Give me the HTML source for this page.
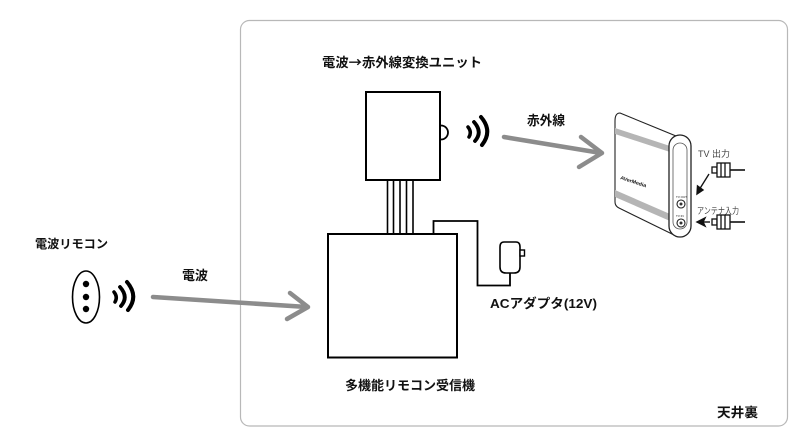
<!DOCTYPE html>
<html><head><meta charset="utf-8">
<style>
html,body{margin:0;padding:0;background:#fff;}
svg{display:block;}
text{font-family:"Liberation Sans","Noto Sans CJK JP",sans-serif;font-weight:bold;fill:#111;}
</style></head>
<body>
<svg width="812" height="440" viewBox="0 0 812 440" xmlns="http://www.w3.org/2000/svg">
<rect x="0" y="0" width="812" height="440" fill="#fff"/>
<!-- outer ceiling frame -->
<rect x="240.5" y="20.5" width="547" height="405.5" rx="9" ry="9" fill="none" stroke="#b8b8b8" stroke-width="1.2"/>

<!-- labels -->
<text x="322" y="67" font-size="13" textLength="160" lengthAdjust="spacingAndGlyphs" style="font-family:'Noto Sans CJK JP',sans-serif">電波→赤外線変換ユニット</text>
<text x="527" y="125" font-size="13" textLength="38" lengthAdjust="spacingAndGlyphs">赤外線</text>
<text x="35" y="248" font-size="12" textLength="73" lengthAdjust="spacingAndGlyphs">電波リモコン</text>
<text x="182" y="280" font-size="13" textLength="26" lengthAdjust="spacingAndGlyphs">電波</text>
<text x="490" y="308" font-size="13" textLength="107" lengthAdjust="spacingAndGlyphs">ACアダプタ(12V)</text>
<text x="345" y="390" font-size="13" textLength="130" lengthAdjust="spacingAndGlyphs">多機能リモコン受信機</text>
<text x="717" y="417" font-size="13" textLength="41" lengthAdjust="spacingAndGlyphs">天井裏</text>

<!-- remote -->
<ellipse cx="86" cy="297" rx="13.5" ry="26" fill="#fff" stroke="#000" stroke-width="1.6"/>
<circle cx="86" cy="284" r="3.2" fill="#000"/>
<circle cx="86" cy="297" r="3.2" fill="#000"/>
<circle cx="86" cy="309" r="3.2" fill="#000"/>

<!-- waves left -->
<g fill="none" stroke="#000" stroke-linecap="round">
<path d="M114,292 Q118,297 115,302" stroke-width="3.5"/>
<path d="M120,287 Q129,297 121,306" stroke-width="3.8"/>
<path d="M127,282 Q139,296 128,310" stroke-width="4"/>
</g>
<!-- waves right -->
<g fill="none" stroke="#000" stroke-linecap="round" transform="translate(354,-165)">
<path d="M114,292 Q118,297 115,302" stroke-width="3.5"/>
<path d="M120,287 Q129,297 121,306" stroke-width="3.8"/>
<path d="M127,282 Q139,296 128,310" stroke-width="4"/>
</g>

<!-- gray arrows -->
<g fill="none" stroke="#8c8c8c" stroke-width="4.5" stroke-linecap="round" stroke-linejoin="round">
<path d="M153,297 L307,307"/>
<path d="M290,293 L308,307 L287,319"/>
<path d="M504,137 L601,153"/>
<path d="M581,137 L602,153 L579,167"/>
</g>

<!-- converter box -->
<rect x="366" y="92" width="74" height="88" fill="#fff" stroke="#000" stroke-width="2"/>
<path d="M441,125.5 A7,7 0 0 1 441,139.5" fill="#fff" stroke="#000" stroke-width="1.8"/>
<!-- wires -->
<g stroke="#000" stroke-width="1.6">
<line x1="387.5" y1="180" x2="387.5" y2="234"/>
<line x1="393.5" y1="180" x2="393.5" y2="234"/>
<line x1="400" y1="180" x2="400" y2="234"/>
<line x1="406.5" y1="180" x2="406.5" y2="234"/>
<line x1="413" y1="180" x2="413" y2="234"/>
</g>
<!-- receiver box -->
<rect x="328" y="234" width="129" height="123.5" fill="#fff" stroke="#000" stroke-width="2"/>
<!-- cable -->
<path d="M433.5,234 L433.5,221 L477.5,221 L477.5,285.5 L510,285.5 L510,272" fill="none" stroke="#000" stroke-width="1.8"/>
<!-- adapter -->
<path d="M504,242 L516,242 Q520,242 520,247 L520,267 Q520,273 514,273 L506,273 Q500,273 500,267 L500,247 Q500,242 504,242 Z" fill="#fff" stroke="#000" stroke-width="1.6"/>
<rect x="520" y="250" width="4.5" height="6" fill="#fff" stroke="#000" stroke-width="1.4"/>

<!-- device -->
<g stroke="#222" stroke-width="1.1" fill="#fff">
<path d="M620,113 L676,136 L676,236 L670,233 L619,208 Q615,206 615,202 L615,121 Q615,113 620,113 Z"/>
<path d="M615,128 L670,146 L670,152 L615,134 Z" fill="#b5b5b5" stroke="none"/>
<path d="M615,190 L670,214 L670,221 L615,197 Z" fill="#b5b5b5" stroke="none"/>
<rect x="669" y="135" width="22" height="102" rx="11" ry="11" fill="#fff" stroke="#222" stroke-width="1.3"/>
<rect x="673" y="143" width="14" height="86" rx="7" ry="7" fill="none" stroke="#555" stroke-width="0.8"/>
<circle cx="681" cy="204" r="4" fill="#fff"/>
<circle cx="681" cy="204" r="1.5" fill="#333" stroke="none"/>
<circle cx="681" cy="223" r="4" fill="#fff"/>
<circle cx="681" cy="223" r="1.5" fill="#333" stroke="none"/>
</g>
<text x="0" y="0" font-size="5" textLength="27" lengthAdjust="spacingAndGlyphs" transform="translate(620,179) rotate(18)" fill="#222">AVerMedia</text>
<text x="676" y="198" font-size="3" style="font-weight:normal" fill="#555">TV OUT</text>
<text x="676" y="217" font-size="3" style="font-weight:normal" fill="#555">TV IN</text>

<!-- small labels right -->
<text x="698" y="157" font-size="9" style="font-weight:normal;fill:#444">TV 出力</text>
<text x="697" y="214" font-size="9" textLength="42" lengthAdjust="spacingAndGlyphs" style="font-weight:normal;fill:#444">アンテナ入力</text>

<!-- RCA plugs -->
<g stroke="#111" stroke-width="1.3" fill="#fff">
<rect x="712" y="167" width="5" height="6"/>
<rect x="717" y="163" width="13" height="14"/>
<line x1="721" y1="163" x2="721" y2="177"/>
<line x1="725" y1="163" x2="725" y2="177"/>
<line x1="730" y1="170" x2="745" y2="170" stroke-width="1.6"/>
<rect x="712" y="219" width="5" height="6"/>
<rect x="717" y="215" width="13" height="14"/>
<line x1="721" y1="215" x2="721" y2="229"/>
<line x1="725" y1="215" x2="725" y2="229"/>
<line x1="730" y1="222" x2="745" y2="222" stroke-width="1.6"/>
</g>
<!-- small black arrows -->
<g stroke="#111" stroke-width="1.4" fill="#111">
<line x1="709" y1="174" x2="699" y2="190"/>
<path d="M697,194 L697.5,186 L703,190 Z"/>
<line x1="710" y1="222" x2="701" y2="222"/>
<path d="M697,222 L705,218 L703,222 L705,226 Z"/>
</g>
</svg>
</body></html>
